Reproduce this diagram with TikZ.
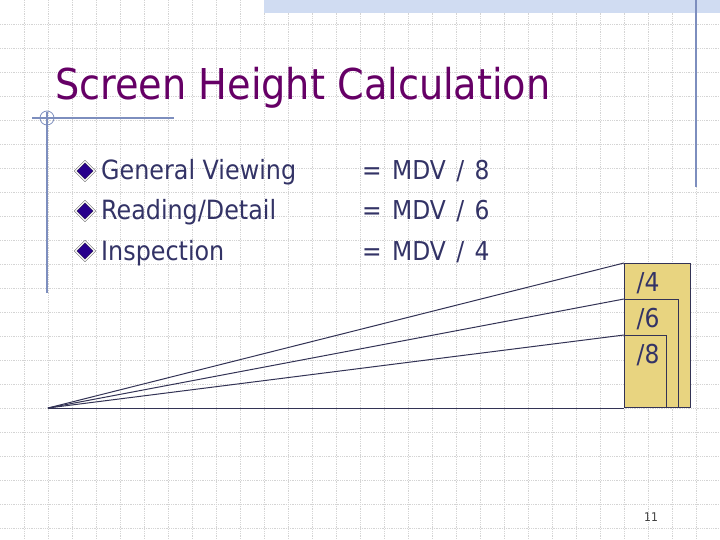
\documentclass[tikz,border=0pt]{standalone}
\usepackage{fontspec}
\setmainfont{DejaVu Sans Condensed}
\usepackage{tikz}
\usetikzlibrary{positioning}
\usetikzlibrary{shapes}

\definecolor{titlepurple}{RGB}{102,0,102}
\definecolor{bodyblue}{RGB}{51,51,102}
\definecolor{decoblue}{RGB}{125,142,190}
\definecolor{bandblue}{RGB}{208,220,242}
\definecolor{gridgray}{RGB}{212,212,212}
\definecolor{bulletblue}{RGB}{40,0,140}
\definecolor{screenyellow}{RGB}{232,212,128}
\definecolor{lineblue}{RGB}{51,51,85}
\newcommand{\widespaces}{\spaceskip 0.4em\relax}

\begin{document}
\begin{tikzpicture}[x=1pt, y=-1pt,
    gridline/.style={gridgray, densely dotted, line width=0.8pt},
    decoline/.style={decoblue, line width=1.2pt},
    titletext/.style={anchor=base west, inner sep=0pt, text=titlepurple,
      font=\fontsize{42.5}{48}\selectfont},
    itemtext/.style={anchor=base west, inner sep=0pt, text=bodyblue,
      font=\fontsize{26.5}{28}\selectfont},
    ratioitem/.style={itemtext, font={\fontsize{26}{28}\selectfont\widespaces}},
    bulletnode/.style={diamond, fill=bulletblue, draw=black!80, double=white,
      double distance=1.2pt, inner sep=0pt, minimum size=19pt},
    screenbox/.style={rectangle, draw=lineblue, line width=1pt, inner sep=0pt,
      anchor=south west},
    ratiotext/.style={text=bodyblue, inner sep=0pt,
      font=\fontsize{26}{28}\selectfont},
    ray/.style={lineblue, line width=1pt}]
  \useasboundingbox (0,0) rectangle (720,540);
  % background grid
  \fill[white] (0,0) rectangle (720,540);
  \foreach \gx in {24,48,...,696} \draw[gridline] (\gx,0) -- (\gx,540);
  \foreach \gy in {24,48,...,528} \draw[gridline] (0,\gy) -- (720,\gy);
  \fill[bandblue] (264,0) rectangle (720,13);
  % slide decoration
  \draw[decoline] (696,0) -- (696,187);
  \draw[decoline] (32,118) -- (174,118);
  \draw[decoline] (47,112) -- (47,293);
  \draw[decoblue, line width=0.8pt] (47,118) circle (7);
  % title and list
  \node[titletext] (title) at (55,100) {Screen Height Calculation};
  \node[bulletnode] (b_gen) at (85,171) {};
  \node[bulletnode] (b_read) at (85,211) {};
  \node[bulletnode] (b_insp) at (85,251) {};
  \node[itemtext] (gen) at (101,180) {General Viewing};
  \node[itemtext] (read) at (101,220) {Reading/Detail};
  \node[itemtext] (insp) at (101,260) {Inspection};
  \node[ratioitem] (gen_r) at (362,180) {= MDV / 8};
  \node[ratioitem] (read_r) at (362,220) {= MDV / 6};
  \node[ratioitem] (insp_r) at (362,260) {= MDV / 4};
  % screens
  \coordinate (eye) at (48,408);
  \node[screenbox, fill=screenyellow, minimum width=66pt, minimum height=144pt] (box4) at (624,408) {};
  \node[screenbox, minimum width=54pt, minimum height=108pt] (box6) at (624,408) {};
  \node[screenbox, minimum width=42pt, minimum height=72pt] (box8) at (624,408) {};
  \node[ratiotext] (lbl4) at (648,283) {/4};
  \node[ratiotext] (lbl6) at (648,319) {/6};
  \node[ratiotext] (lbl8) at (648,355) {/8};
  \draw[ray] (eye) -- (box4.north west);
  \draw[ray] (eye) -- (box6.north west);
  \draw[ray] (eye) -- (box8.north west);
  \draw[ray] (eye) -- (box4.south west);
  \node[text=black!75, font=\fontsize{12}{14}\selectfont] (pagenum) at (651,517) {11};
\end{tikzpicture}
\end{document}
